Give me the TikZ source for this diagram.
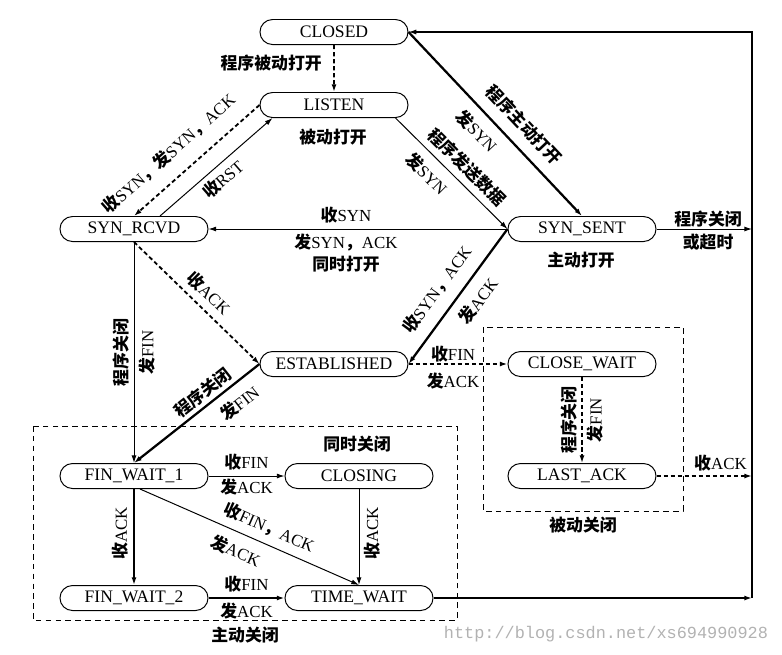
\documentclass[tikz,border=0pt]{standalone}
\usepackage{fontspec}
\setmainfont{Liberation Serif}
\setmonofont{Liberation Mono}
\newfontfamily\cjk{Noto Sans CJK SC}
\usetikzlibrary{arrows.meta,shapes.misc}
\newcommand\zh[1]{{\cjk\bfseries #1}}

\begin{document}
\begin{tikzpicture}[x=0.025cm,y=-0.025cm,
		state/.style={draw,rounded rectangle,minimum width=3.7cm,minimum height=0.625cm,inner sep=0pt,line width=0.7pt,font=\fontsize{12.5}{14}\selectfont},
		lbl/.style={inner sep=1pt,align=center,font=\fontsize{12}{15.6}\selectfont},
		vlbl/.style={lbl,rotate=90,inner sep=3pt},
		tip/.style={-{Latex[length=5.5pt,width=3.6pt]}},
		thinarr/.style={tip,line width=0.7pt},
		thickarr/.style={tip,line width=1.6pt},
		dasharr/.style={tip,line width=1.3pt,dash pattern=on 3pt off 2pt},
		box/.style={line width=0.7pt,dash pattern=on 4pt off 3pt}]
				\useasboundingbox (0,0) rectangle (782,654);
				\node[state] (closed) at (334,32) {CLOSED};
				\node[state] (listen) at (334,105) {LISTEN};
				\node[state] (synrcvd) at (134,229) {SYN\_RCVD};
				\node[state] (synsent) at (582,229) {SYN\_SENT};
				\node[state] (estab) at (334,364) {ESTABLISHED};
				\node[state] (closewait) at (582,364) {CLOSE\_WAIT};
				\node[state] (finwait1) at (134,476) {FIN\_WAIT\_1};
				\node[state] (closing) at (359,476) {CLOSING};
				\node[state] (lastack) at (582,476) {LAST\_ACK};
				\node[state] (finwait2) at (134,598) {FIN\_WAIT\_2};
				\node[state] (timewait) at (359,598) {TIME\_WAIT};
				\coordinate (r0) at (752,32);
				\coordinate (r1) at (752,229);
				\coordinate (r2) at (752,476);
				\coordinate (r3) at (752,598);
				\node[lbl] (passiveopen) at (333,137) {\zh{被动打开}};
				\node[lbl] (activeopen) at (581,260) {\zh{主动打开}};
				\node[lbl] (simclose) at (357,444) {\zh{同时关闭}};
				\node[lbl] (activeclose) at (245,635) {\zh{主动关闭}};
				\node[lbl] (passiveclose) at (583,525) {\zh{被动关闭}};
				\draw[box] (33,426) rectangle (457,620);
				\draw[box] (483,327) rectangle (683,511);
				\draw[dasharr] (closed) -- (listen) node[lbl,pos=0.39,left=7pt] {\zh{程序被动打开}};
				\draw[dasharr] (listen.west) -- (synrcvd.north) node[lbl,sloped,pos=0.6,above=9pt] {\zh{收}SYN\zh{，发}SYN\zh{，}ACK};
				\draw[thinarr] ([xshift=0.65cm]synrcvd.north) -- (listen.south west) node[lbl,sloped,pos=0.48,below=2.5pt] {\zh{收}RST};
				\draw[thinarr] (listen.south east) -- (synsent.west) node[lbl,sloped,pos=0.54,above=3.6pt] {\zh{程序发送数据}} node[lbl,sloped,pos=0.39,below=5.6pt] {\zh{发}SYN};
				\draw[thickarr] (closed.east) -- (synsent.north) node[lbl,sloped,pos=0.58,above=7pt] {\zh{程序主动打开}} node[lbl,sloped,pos=0.47,below=5.4pt] {\zh{发}SYN};
				\draw[thinarr] (synsent.west) -- (synrcvd.east) node[lbl,pos=0.54,above=3pt] {\zh{收}SYN} node[lbl,pos=0.54,below=2pt] {\zh{发}SYN\zh{，}ACK\\\zh{同时打开}};
				\draw[thickarr] (synsent.west) -- (estab.east) node[lbl,sloped,pos=0.54,above=7pt] {\zh{收}SYN\zh{，}ACK} node[lbl,sloped,pos=0.45,below=5.8pt] {\zh{发}ACK};
				\draw[dasharr] (synrcvd.south) -- (estab.west) node[lbl,sloped,pos=0.51,above=3.7pt] {\zh{收}ACK};
				\draw[thinarr] (synrcvd.south) -- (finwait1.north) node[vlbl,pos=0.5,anchor=south] {\zh{程序关闭}} node[vlbl,pos=0.5,anchor=north] {\zh{发}FIN};
				\draw[thickarr] (estab.west) -- (finwait1.north) node[lbl,sloped,pos=0.39,above=1.5pt] {\zh{程序关闭}} node[lbl,sloped,pos=0.25,below=5.5pt] {\zh{发}FIN};
				\draw[dasharr] (estab.east) -- (closewait.west) node[lbl,pos=0.45,above=0pt] {\zh{收}FIN} node[lbl,pos=0.45,below=5pt] {\zh{发}ACK};
				\draw[dasharr,line width=1pt] (closewait.south) -- (lastack.north) node[vlbl,midway,anchor=south] {\zh{程序关闭}} node[vlbl,midway,anchor=north] {\zh{发}FIN};
				\draw[dasharr] (lastack.east) -- (r2) node[lbl,pos=0.67,above=1.5pt] {\zh{收}ACK};
				\draw[thinarr] (finwait1.east) -- (closing.west) node[lbl,midway,above=3pt] {\zh{收}FIN} node[lbl,midway,below=1pt] {\zh{发}ACK};
				\draw[thickarr] (finwait1.south) -- (finwait2.north) node[vlbl,pos=0.46,anchor=south] {\zh{收}ACK};
				\draw[thinarr] ([xshift=0.15cm]finwait1.south) -- (timewait.north) node[lbl,sloped,pos=0.56,above=4.3pt] {\zh{收}FIN\zh{，}ACK} node[lbl,sloped,pos=0.47,below=5.8pt] {\zh{发}ACK};
				\draw[thinarr] (closing.south) -- (timewait.north) node[vlbl,pos=0.46,anchor=north] {\zh{收}ACK};
				\draw[thickarr] (finwait2.east) -- (timewait.west) node[lbl,midway,above=2.2pt] {\zh{收}FIN} node[lbl,midway,below=1.5pt] {\zh{发}ACK};
				\draw[thickarr] (timewait.east) -- (r3);
				\draw[thinarr] (synsent.east) -- (r1) node[lbl,pos=0.54,above=0pt] {\zh{程序关闭}} node[lbl,pos=0.54,below=2pt] {\zh{或超时}};
				\draw[thinarr,line width=0.9pt] (r3) -- (r0) -- (closed.east);
				\node[text=black!30,font=\ttfamily\fontsize{12}{14}\selectfont] (mark) at (606,634) {http://blog.csdn.net/xs694990928};
			\end{tikzpicture}
\end{document}
